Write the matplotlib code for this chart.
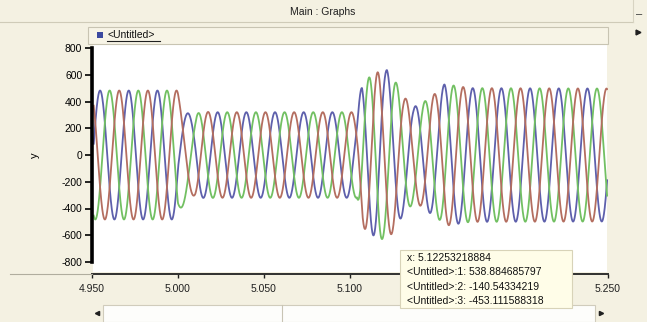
import numpy as np
import matplotlib
matplotlib.use("Agg")
import matplotlib.pyplot as plt
from matplotlib.patches import Rectangle
from matplotlib.lines import Line2D

plt.rcParams['font.family'] = ['Liberation Sans', 'DejaVu Sans']

# ---------------- data ----------------
freq_hz = 60.0
t_ref_peak = 4.9547             # a peak of phase 1 (blue)
phase_names = ["<Untitled>:1", "<Untitled>:2", "<Untitled>:3"]
phase_shift_deg = [0.0, -120.0, -240.0]
phase_colors = ["#5e60ac", "#72c062", "#b46e60"]

# amplitude envelope (peak values)
env_t = [4.950, 5.0000, 5.00001, 5.104, 5.107, 5.112, 5.117, 5.1215, 5.126,
         5.131, 5.137, 5.142, 5.147, 5.151, 5.155, 5.160, 5.170, 5.250]
env_amp = [482, 482, 320, 320, 535, 590, 625, 635, 560,
           440, 360, 385, 440, 470, 530, 520, 500, 497]

# phase delay (seconds) of the waves
delay_t = [4.950, 5.000, 5.010, 5.104, 5.118, 5.250]
delay_s = [0.0, 0.0, 0.0017, 0.0017, 0.0, 0.0]

t_fault = 5.0
dc_tau = 0.004

t_start, t_end = 4.951, 5.2495
x_ticks = [4.950, 5.000, 5.050, 5.100, 5.150, 5.200, 5.250]
x_tick_labels = ["4.950", "5.000", "5.050", "5.100", "", "", "5.250"]  # two hidden by the tooltip
y_ticks = [-800, -600, -400, -200, 0, 200, 400, 600, 800]

tooltip_lines = ["x: 5.12253218884",
                 "<Untitled>:1: 538.884685797",
                 "<Untitled>:2: -140.54334219",
                 "<Untitled>:3: -453.111588318"]

# ---------------- build the waves ----------------
dt = 1 / 20000.0
t = np.arange(t_start, t_end, dt)
amp = np.interp(t, env_t, env_amp)
delay = np.interp(t, delay_t, delay_s)
theta = 2 * np.pi * freq_hz * (t - t_ref_peak - delay)
theta_f = 2 * np.pi * freq_hz * (t_fault - t_ref_peak)
amp_pre, amp_post = env_amp[1], env_amp[2]

waves = []
for sh in phase_shift_deg:
    s = np.deg2rad(sh)
    v = amp * np.cos(theta + s)
    dc = (amp_pre - amp_post) * np.cos(theta_f + s)
    after = t > t_fault
    v[after] += dc * np.exp(-(t[after] - t_fault) / dc_tau)
    waves.append(v)

# ---------------- figure ----------------
W, H = 647, 322
BG = "#f4f1e2"
fig = plt.figure(figsize=(W / 100, H / 100), dpi=100, facecolor=BG)

def fx(x):
    return x / W

def fy(y):
    return 1 - y / H

# white plotting area
fig.patches.append(Rectangle((fx(93), fy(272)), fx(607) - fx(93), fy(44) - fy(272),
                             transform=fig.transFigure, facecolor="white",
                             edgecolor="none", zorder=-1))

ax = fig.add_axes([fx(92), fy(262), fx(608) - fx(92), fy(48) - fy(262)])
ax.patch.set_visible(False)
for v, c in zip(waves, phase_colors):
    ax.plot(t, v, color=c, lw=1.3, zorder=2)

ax.set_xlim(4.95, 5.25)
ax.set_ylim(-800, 800)
ax.set_xticks(x_ticks)
ax.set_xticklabels(x_tick_labels)
ax.set_yticks(y_ticks)
ax.set_yticklabels([str(v) for v in y_ticks])
for sp in ["top", "right"]:
    ax.spines[sp].set_visible(False)
ax.spines["left"].set_linewidth(2.6)
ax.spines["left"].set_color("black")
ax.spines["bottom"].set_position(("outward", 8.6))
ax.spines["bottom"].set_linewidth(1.4)
ax.spines["bottom"].set_color("#303030")
ax.tick_params(axis="y", direction="out", length=5, width=1.2, pad=2,
               labelsize=7.5, colors="black")
ax.tick_params(axis="x", direction="out", length=3, width=1.0, pad=4,
               labelsize=7.5, colors="#202020")
ax.text(-0.11, 0.5, "y", transform=ax.transAxes, rotation=90, fontsize=8,
        ha="center", va="center")

# thin line across at the axis level
fig.lines.append(Line2D([fx(10), fx(92)], [fy(274), fy(274)], transform=fig.transFigure,
                        color="#b0ad9e", lw=0.8))

# title bar
fig.text(fx(323), fy(12), "Main : Graphs", fontsize=7.5, ha="center", va="center",
         color="#202020")
fig.lines.append(Line2D([0, fx(633)], [fy(22), fy(22)], transform=fig.transFigure,
                        color="#cfcbb8", lw=0.8))
fig.lines.append(Line2D([fx(633), fx(633)], [fy(22), 1], transform=fig.transFigure,
                        color="#d8d4c2", lw=0.8))
fig.text(fx(639), fy(14), "–", fontsize=8, ha="center", va="center", color="#303030")

# legend strip
fig.patches.append(Rectangle((fx(88), fy(44)), fx(608) - fx(88), fy(27) - fy(44),
                             transform=fig.transFigure, facecolor="#f7f4e6",
                             edgecolor="#c8c4b2", lw=0.8, zorder=1))
fig.patches.append(Rectangle((fx(97), fy(38)), fx(6) - fx(0), fy(32) - fy(38),
                             transform=fig.transFigure, facecolor="#3c4aa0",
                             edgecolor="none", zorder=2))
fig.text(fx(107), fy(35), "<Untitled>", fontsize=7.5, ha="left", va="center",
         color="#101010", zorder=3)
fig.lines.append(Line2D([fx(107), fx(160)], [fy(41), fy(41)], transform=fig.transFigure,
                        color="#202020", lw=0.8, zorder=3))
fig.lines.append(Line2D([fx(638)], [fy(32)], transform=fig.transFigure, marker=">",
                        markersize=3.5, color="#202020", lw=0))

# tooltip
fig.patches.append(Rectangle((fx(400), fy(308)), fx(572) - fx(400), fy(250) - fy(308),
                             transform=fig.transFigure, facecolor="#fffde8",
                             edgecolor="#d8d3b8", lw=0.8, zorder=10))
for i, s in enumerate(tooltip_lines):
    fig.text(fx(407), fy(258 + 14.3 * i), s, fontsize=7.5, ha="left", va="center",
             color="#101010", zorder=11)

# scrollbar
fig.patches.append(Rectangle((fx(103), fy(322)), fx(595) - fx(103), fy(305) - fy(322),
                             transform=fig.transFigure, facecolor="#fdfdfb",
                             edgecolor="#d0ccbc", lw=0.8, zorder=1))
fig.lines.append(Line2D([fx(282), fx(282)], [fy(322), fy(305)], transform=fig.transFigure,
                        color="#c8c4b4", lw=0.8, zorder=2))
fig.lines.append(Line2D([fx(97)], [fy(313)], transform=fig.transFigure, marker="<",
                        markersize=3.0, color="#202020", lw=0))
fig.lines.append(Line2D([fx(601)], [fy(313)], transform=fig.transFigure, marker=">",
                        markersize=3.0, color="#202020", lw=0))

fig.savefig("out.png", dpi=100, facecolor=BG)
